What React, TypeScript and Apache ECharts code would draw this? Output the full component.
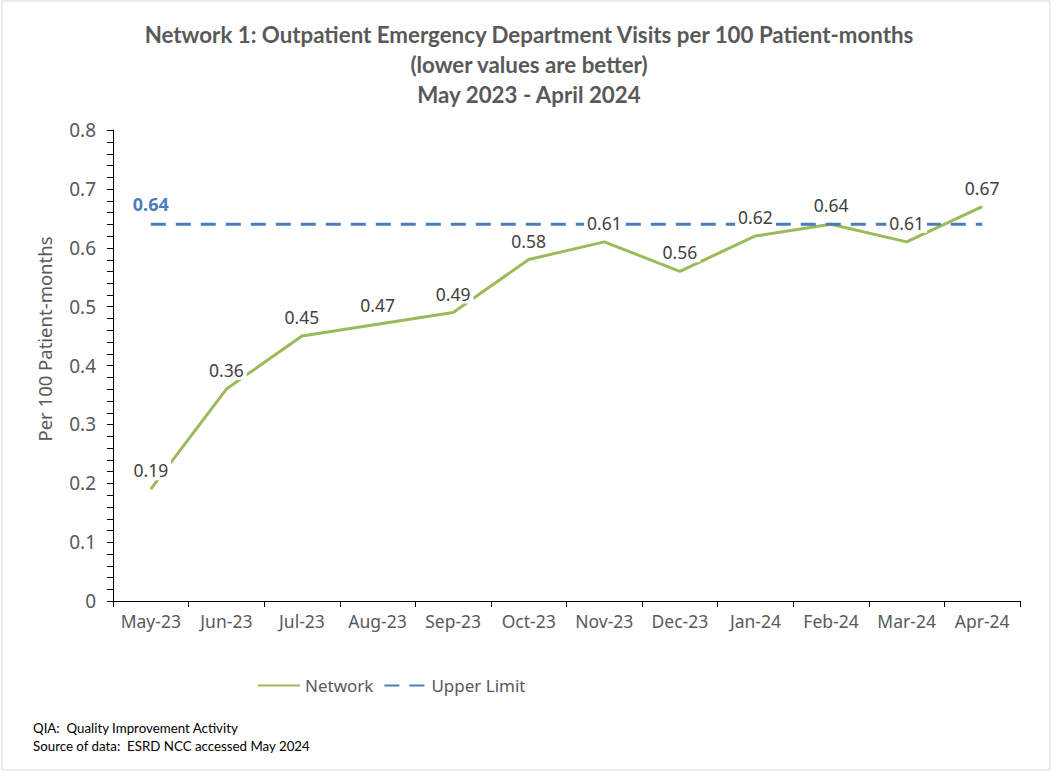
import React, { useEffect, useRef } from "react";
import * as echarts from "echarts";

const categories = ["May-23", "Jun-23", "Jul-23", "Aug-23", "Sep-23", "Oct-23", "Nov-23", "Dec-23", "Jan-24", "Feb-24", "Mar-24", "Apr-24"];
const networkValues = [0.19, 0.36, 0.45, 0.47, 0.49, 0.58, 0.61, 0.56, 0.62, 0.64, 0.61, 0.67];
const upperLimitValues = [0.64, 0.64, 0.64, 0.64, 0.64, 0.64, 0.64, 0.64, 0.64, 0.64, 0.64, 0.64];
const titleLines = [
  "Network 1: Outpatient Emergency Department Visits per 100 Patient-months",
  "(lower values are better)",
  "May 2023 - April 2024",
];
const yAxisTitle = "Per 100 Patient-months";
const footnotes = ["QIA:  Quality Improvement Activity", "Source of data:  ESRD NCC accessed May 2024"];
const minorTickValues = [0.02, 0.04, 0.06, 0.08, 0.12, 0.14, 0.16, 0.18, 0.22, 0.24, 0.26, 0.28, 0.32, 0.34, 0.36, 0.38, 0.42, 0.44, 0.46, 0.48, 0.52, 0.54, 0.56, 0.58, 0.62, 0.64, 0.66, 0.68, 0.72, 0.74, 0.76, 0.78];

const GREEN = "#9bbb59";
const BLUE = "#4a7ebb";
const GRAY = "#595959";
const FONT = "Noto Sans";
const AXIS_X = 113;

export default function App() {
  const ref = useRef<HTMLDivElement>(null);
  useEffect(() => {
    if (!ref.current) return;
    const chart = echarts.init(ref.current, undefined, { renderer: "svg" });
    const baseGraphic: any[] = [
      {
        type: "rect",
        shape: { x: 2, y: 1, width: 1048, height: 769 },
        style: { fill: "none", stroke: "#d9d9d9", lineWidth: 1 },
        silent: true,
      },
      {
        type: "text",
        x: 44,
        y: 339,
        rotation: Math.PI / 2,
        style: {
          text: yAxisTitle,
          fontFamily: FONT,
          fontSize: 18.5,
          fill: GRAY,
          align: "center",
          verticalAlign: "middle",
        },
      },
      {
        type: "text",
        left: 33,
        top: 721,
        style: { text: footnotes[0], fontFamily: "Lato", fontSize: 13.3, fill: "#000" },
      },
      {
        type: "text",
        left: 33,
        top: 739,
        style: { text: footnotes[1], fontFamily: "Lato", fontSize: 13.3, fill: "#000" },
      },
    ];
    chart.setOption({
      animation: false,
      backgroundColor: "#fff",
      title: {
        text: titleLines.join("\n"),
        left: "center",
        top: 14,
        textStyle: {
          fontFamily: "Lato",
          fontWeight: "bold",
          fontSize: 22.3,
          lineHeight: 30,
          color: GRAY,
        },
      },
      grid: { left: AXIS_X, right: 38, top: 130, bottom: 172, containLabel: false },
      legend: {
        data: ["Network", "Upper Limit"],
        left: 252,
        top: 672,
        itemWidth: 42,
        itemHeight: 12,
        itemGap: 10,
        itemStyle: { opacity: 0 },
        textStyle: { fontFamily: FONT, fontSize: 17, color: GRAY },
      },
      xAxis: {
        type: "category",
        data: categories,
        boundaryGap: true,
        axisLine: { lineStyle: { color: "#000", width: 1 } },
        axisTick: { show: true, alignWithLabel: false, length: 6, lineStyle: { color: "#000" } },
        axisLabel: { fontFamily: FONT, fontSize: 17.5, color: GRAY, margin: 11, interval: 0 },
      },
      yAxis: {
        type: "value",
        min: 0,
        max: 0.8,
        interval: 0.1,
        axisLine: { show: true, lineStyle: { color: "#000", width: 1 } },
        axisTick: { show: true, length: 6, lineStyle: { color: "#000" } },
        splitLine: { show: false },
        axisLabel: { fontFamily: FONT, fontSize: 19, color: GRAY, margin: 17 },
      },
      series: [
        {
          name: "Network",
          type: "line",
          data: networkValues,
          z: 2,
          symbol: "none",
          lineStyle: { color: GREEN, width: 3 },
          itemStyle: { color: GREEN },
        },
        {
          name: "Upper Limit",
          type: "line",
          data: upperLimitValues,
          z: 3,
          symbol: "none",
          lineStyle: { color: BLUE, width: 3, type: [15, 10] },
          itemStyle: { color: BLUE },
        },
        {
          name: "UpperLabel",
          type: "line",
          data: upperLimitValues,
          z: 4,
          symbol: "circle",
          symbolSize: 0,
          lineStyle: { opacity: 0 },
          itemStyle: { color: "transparent" },
          label: {
            show: true,
            position: "top",
            distance: 11,
            fontFamily: FONT,
            fontWeight: "bold",
            fontSize: 18,
            color: BLUE,
            formatter: (p: any) => (p.dataIndex === 0 ? p.value.toFixed(2) : ""),
          },
        },
        {
          name: "NetworkLabels",
          type: "line",
          data: networkValues,
          z: 5,
          symbol: "circle",
          symbolSize: 0,
          lineStyle: { opacity: 0 },
          itemStyle: { color: "transparent" },
          label: {
            show: true,
            position: "top",
            distance: 9,
            fontFamily: FONT,
            fontSize: 17.5,
            color: "#404040",
            backgroundColor: "#fff",
            padding: [1, 3],
            formatter: (p: any) => p.value.toFixed(2),
          },
        },
      ],
      graphic: baseGraphic,
    });
    // minor ticks on the value axis, positioned through the axis scale
    const tickLines = minorTickValues.map((v) => {
      const y = Math.round(chart.convertToPixel({ yAxisIndex: 0 }, v) as number) + 0.5;
      return {
        type: "line",
        silent: true,
        z: 10,
        shape: { x1: AXIS_X - 6, y1: y, x2: AXIS_X, y2: y },
        style: { stroke: "#000", lineWidth: 1 },
      };
    });
    chart.setOption({ graphic: [...baseGraphic, ...tickLines] });
    return () => chart.dispose();
  }, []);
  return <div ref={ref} style={{ position: "fixed", left: 0, top: 0, width: 1058, height: 773 }} />;
}
